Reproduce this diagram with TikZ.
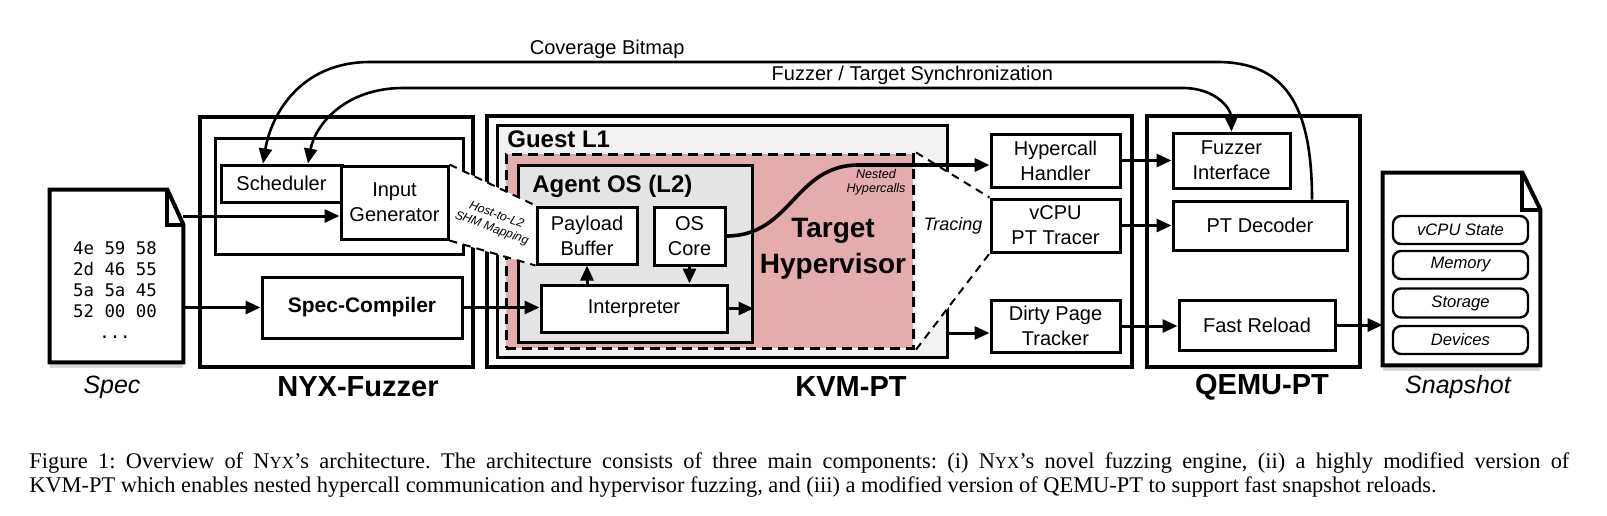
\documentclass[tikz,border=0pt]{standalone}
\usepackage{fontspec}
\setmainfont{Liberation Sans}
\newfontfamily\capfont{Liberation Serif}
\newfontfamily\hexfont{DejaVu Sans Mono}
\usepackage{tikz}
\usetikzlibrary{arrows.meta, calc}
\definecolor{pinkfill}{RGB}{228,172,172}
\definecolor{guestfill}{RGB}{242,242,242}
\definecolor{agentfill}{RGB}{228,228,228}
\pgfdeclarelayer{back}
\pgfdeclarelayer{mask}
\pgfsetlayers{back,mask,main}
\tikzstyle{outer} = [rectangle, draw=black, line width=2pt, inner sep=0pt]
\tikzstyle{box} = [rectangle, draw=black, line width=1.5pt, fill=white, align=center, inner sep=0pt]
\tikzstyle{item} = [rectangle, rounded corners=4pt, draw=black, line width=1.2pt, fill=white, inner sep=0pt, font=\fontsize{8.3}{10}\selectfont\itshape]
\tikzstyle{arrow} = [line width=1.5pt, ->, >={Triangle[length=7.5pt,width=6.5pt]}]
\tikzstyle{curve} = [line width=1.3pt, ->, >={Triangle[length=7.5pt,width=6.5pt]}]
\tikzstyle{shm} = [line width=1pt, dash pattern=on 4pt off 3pt]
\tikzstyle{doc} = [line width=2pt, fill=white]
\tikzstyle{biglabel} = [font=\fontsize{14.5}{16}\selectfont\bfseries]
\tikzstyle{itlabel} = [font=\fontsize{12.5}{14}\selectfont\itshape]
\newcommand{\nyxsc}{N{\fontsize{8.5}{10}\selectfont YX}}

\begin{document}
\begin{tikzpicture}[x=0.5pt, y=-0.5pt, font=\fontsize{10}{12.5}\selectfont]
  \useasboundingbox (0,0) rectangle (1607,515);

  % spec file
  \node (spec) [minimum width=66.5pt, minimum height=86pt, inner sep=0pt] at (116.5,276) {};
  \fill[black!15] ($(spec.south west)+(0,1)$) rectangle ($(spec.south east)+(0,6)$);
  \draw[doc] (spec.south west) -- (spec.north west) -- ($(spec.north east)+(-16,0)$) -- ($(spec.north east)+(0,35)$) -- (spec.south east) -- cycle;
  \draw[line width=2pt] ($(spec.north east)+(-16,0)$) |- ($(spec.north east)+(0,35)$);
  \node (hex) [align=center, font=\hexfont\fontsize{8.7}{10.5}\selectfont] at (115,290) {4e 59 58\\2d 46 55\\5a 5a 45\\52 00 00\\...};
  \node (speclbl) [itlabel] at (112,387) {Spec};

  % NYX-Fuzzer
  \node (sched) [box, minimum width=60.5pt, minimum height=18.5pt] at (281.5,183.5) {Scheduler};
  \node (inputgen) [box, minimum width=53.5pt, minimum height=36.5pt] at (394.5,202.5) {Input\\Generator};
  \node (speccomp) [box, minimum width=100pt, minimum height=30.5pt, font=\fontsize{10.5}{12}\selectfont\bfseries] at (362,307.5) {Spec-Compiler};
  \node (nyxlbl) [biglabel] at (358,387) {NYX-Fuzzer};

  % KVM-PT
  \node (payload) [box, minimum width=50pt, minimum height=28.5pt] at (587,235.5) {Payload\\Buffer};
  \node (oscore) [box, minimum width=35.5pt, minimum height=29pt] at (689.5,236) {OS\\Core};
  \node (interp) [box, minimum width=93pt, minimum height=23.5pt] at (634,308.5) {Interpreter};
  \node (hyper) [box, minimum width=64.5pt, minimum height=26.5pt] at (1055.5,160.5) {Hypercall\\Handler};
  \node (vcpu) [box, minimum width=64.5pt, minimum height=26.5pt] at (1055.5,225.5) {vCPU\\PT Tracer};
  \node (dirty) [box, minimum width=64.5pt, minimum height=26pt] at (1055.5,326) {Dirty Page\\Tracker};
  \node (kvmlbl) [biglabel] at (851,387) {KVM-PT};

  % QEMU-PT
  \node (fuzzif) [box, minimum width=58.5pt, minimum height=27.5pt] at (1231.5,160.5) {Fuzzer\\Interface};
  \node (ptdec) [box, minimum width=87pt, minimum height=24.5pt] at (1260,225.5) {PT Decoder};
  \node (reload) [box, minimum width=78pt, minimum height=25pt] at (1257,325) {Fast Reload};
  \node (qemulbl) [biglabel] at (1262,387) {QEMU-PT};

  % snapshot file
  \node (snap) [minimum width=78.5pt, minimum height=96pt, inner sep=0pt] at (1461.5,269) {};
  \fill[black!15] ($(snap.south west)+(0,1)$) rectangle ($(snap.south east)+(0,6)$);
  \draw[doc] (snap.south west) -- (snap.north west) -- ($(snap.north east)+(-18,0)$) -- ($(snap.north east)+(0,37)$) -- (snap.south east) -- cycle;
  \draw[line width=2pt] ($(snap.north east)+(-18,0)$) |- ($(snap.north east)+(0,37)$);
  \node (cpustate) [item, minimum width=67.5pt, minimum height=14pt] at (1460.5,230) {vCPU State};
  \node (memory) [item, minimum width=67.5pt, minimum height=14pt] at (1460.5,265) {Memory};
  \node (storage) [item, minimum width=67.5pt, minimum height=14.5pt] at (1460.5,303) {Storage};
  \node (devices) [item, minimum width=67.5pt, minimum height=14pt] at (1460.5,340) {Devices};
  \node (snaplbl) [itlabel] at (1458,387) {Snapshot};

  \begin{pgfonlayer}{back}
    \node (nyx) [outer, minimum width=136.5pt, minimum height=125pt] at (336.5,242) {};
    \node (nyxin) [box, minimum width=124pt, minimum height=58pt] at (339,196) {};
    \node (kvm) [outer, minimum width=322.5pt, minimum height=125.5pt] at (809.5,241.5) {};
    \node (guest) [box, fill=guestfill, minimum width=225pt, minimum height=116pt] at (722,241) {};
    \node (target) [rectangle, fill=pinkfill, draw=black, line width=1.5pt, dash pattern=on 5pt off 3pt, inner sep=0pt, minimum width=203.5pt, minimum height=97pt] at (709.5,251) {};
    \node (agent) [box, fill=agentfill, minimum width=117pt, minimum height=88.5pt] at (635,253.5) {};
    \node (qemu) [outer, minimum width=106.5pt, minimum height=125.5pt] at (1253.5,241.5) {};
  \end{pgfonlayer}

  \begin{pgfonlayer}{mask}
    \fill[white] (inputgen.north east) -- (payload.north west) -- (payload.south west) -- (inputgen.south east) -- cycle;
    \fill[white] ([xshift=0.8pt]target.north east) -- (vcpu.north west) -- (vcpu.south west) -- ([xshift=0.8pt]target.south east) -- cycle;
  \end{pgfonlayer}

  \node (guestlbl) [anchor=base west, inner sep=0pt, font=\fontsize{12}{14}\selectfont\bfseries] at (507,147) {Guest L1};
  \node (agentlbl) [anchor=base west, inner sep=0pt, font=\fontsize{12}{14}\selectfont\bfseries] at (532,192) {Agent OS (L2)};
  \node (targetlbl) [align=center, font=\fontsize{14}{18}\selectfont\bfseries] at (833,249) {Target\\Hypervisor};
  \node (nestedlbl) [align=center, font=\fontsize{6.3}{7}\selectfont\itshape] at (876,182) {Nested\\Hypercalls};
  \node (tracinglbl) [font=\fontsize{9}{11}\selectfont\itshape] at (953,226) {Tracing};
  \node (shmlbl) [align=center, rotate=-20, inner sep=0pt, font=\fontsize{6.1}{7}\selectfont\itshape] at (494,222) {Host-to-L2\\SHM Mapping};

  % dashed mappings
  \draw[shm] (inputgen.north east) -- (payload.north west);
  \draw[shm] (inputgen.south east) -- (payload.south west);
  \draw[shm] ([xshift=0.8pt]target.north east) -- (vcpu.north west);
  \draw[shm] ([xshift=0.8pt]target.south east) -- (vcpu.south west);

  % arrows
  \path ($(inputgen.west)+(0,13.5)$) coordinate (igin);
  \path ($(hyper.west)+(0,4.5)$) coordinate (hcin);
  \path ($(dirty.west)+(0,7)$) coordinate (dtin);
  \draw [arrow] (spec.east |- igin) -- (igin);
  \draw [arrow] (spec.east |- speccomp.west) -- (speccomp.west);
  \draw [arrow] (speccomp.east) -- (speccomp.east -| interp.west);
  \draw [arrow] (interp.east) -- (interp.east -| agent.east);
  \draw [arrow] (payload.south |- interp.north) -- (payload.south);
  \draw [arrow] (oscore.south) -- (oscore.south |- interp.north);
  \draw [arrow, line width=1.8pt] (oscore.east) .. controls ($(oscore.east)+(65,0)$) and ($(hcin)+(-195,0)$) .. ($(hcin)+(-131,0)$) -- (hcin);
  \draw [arrow] (hyper.east) -- (hyper.east -| fuzzif.west);
  \draw [arrow] (vcpu.east) -- (vcpu.east -| ptdec.west);
  \draw [arrow] (guest.east |- dtin) -- (dtin);
  \draw [arrow] (dirty.east) -- (dirty.east -| reload.west);
  \draw [arrow] (reload.east) -- (reload.east -| snap.west);

  % feedback curves
  \draw [curve] ($(ptdec.north)+(52,0)$) .. controls (1312,105) and (1285,62) .. (1217,62) -- node[pos=0.72, above, inner sep=1pt] {Coverage Bitmap} (370,62) .. controls (300,62) and (271,115) .. ($(sched.north)+(-18.5,0)$);
  \draw [curve, <->] ($(sched.north)+(26.5,0)$) .. controls (315,125) and (345,88) .. (403,88) -- node[pos=0.653, above, inner sep=1pt] {Fuzzer / Target Synchronization} (1183,88) .. controls (1215,88) and (1231,108) .. (fuzzif.north);

  % caption
  \node (caption) [anchor=north west, inner sep=0pt, text width=770pt, align=justify, font=\capfont\fontsize{11.2}{12.4}\selectfont] at (29,452) {\frenchspacing Figure 1: Overview of \nyxsc’s architecture. The architecture consists of three main components: (i) \nyxsc’s novel fuzzing engine, (ii) a highly modified version of\linebreak KVM-PT which enables nested hypercall communication and hypervisor fuzzing, and (iii) a modified version of QEMU-PT to support fast snapshot reloads.};
\end{tikzpicture}
\end{document}
